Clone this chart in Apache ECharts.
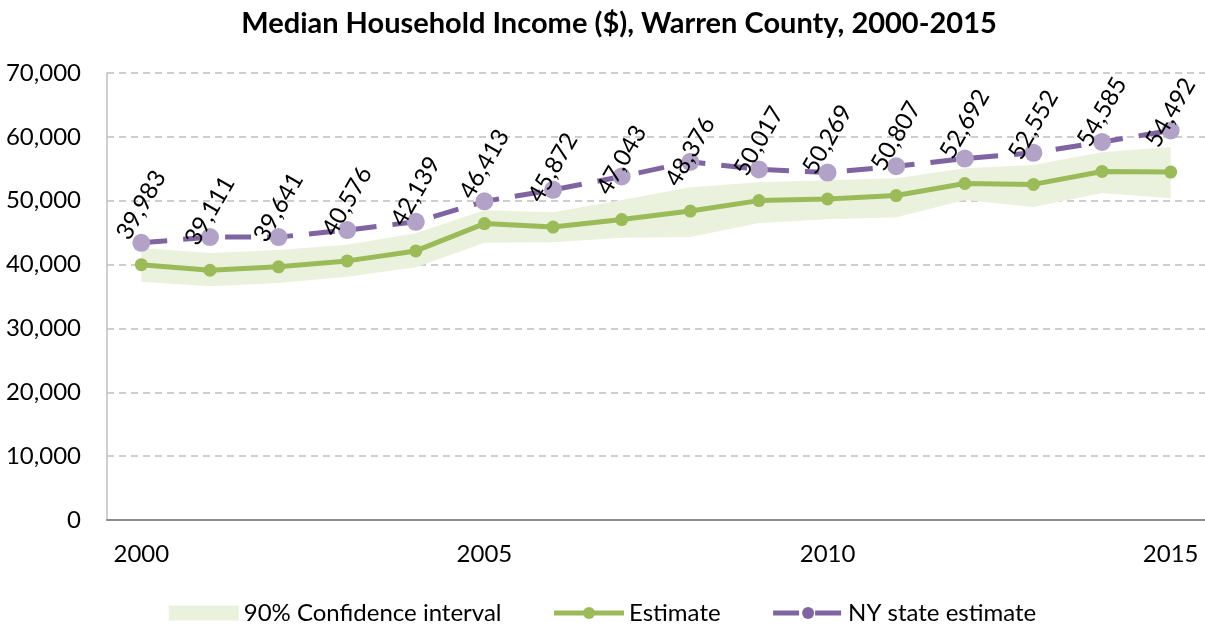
<!DOCTYPE html>
<html>
<head>
<meta charset="utf-8">
<script src="https://cdn.jsdelivr.net/npm/echarts@6/dist/echarts.min.js"></script>
<style>
  html, body { margin: 0; padding: 0; background: #fff; }
  #IncomeChart { width: 1205px; height: 627px; }
</style>
</head>
<body>
<div id="IncomeChart"></div>
<script>
var years = ['2000', '2001', '2002', '2003', '2004', '2005', '2006', '2007',
             '2008', '2009', '2010', '2011', '2012', '2013', '2014', '2015'];
var estimate = [39983, 39111, 39641, 40576, 42139, 46413, 45872, 47043,
                48376, 50017, 50269, 50807, 52692, 52552, 54585, 54492];
var nyState = [43400, 44300, 44300, 45400, 46700, 49900, 51700, 53800,
               56100, 54900, 54400, 55400, 56600, 57500, 59200, 61000];
var ciLow = [37300, 36600, 37100, 38100, 39600, 43400, 43500, 44200,
             44300, 46500, 47100, 47400, 50100, 49000, 51200, 50400];
var ciHigh = [42600, 41800, 42300, 43100, 44900, 48500, 48200, 50100,
              52100, 52900, 53200, 53500, 55100, 55600, 57600, 58400];
var yTicks = [0, 10000, 20000, 30000, 40000, 50000, 60000, 70000];

// band height on top of the lower bound (stacked area)
var ciSpan = ciHigh.map(function (v, i) { return v - ciLow[i]; });

var fontName = 'Lato';
var chart = echarts.init(document.getElementById('IncomeChart'));

var option = {
    backgroundColor: '#fff',
    animation: false,
    title: {
        text: 'Median Household Income ($), Warren County, 2000-2015',
        left: 614,
        textAlign: 'center',
        top: 4,
        textStyle: {
            fontFamily: fontName,
            fontWeight: 'bold',
            fontSize: 29,
            color: '#000'
        }
    },
    legend: {
        top: 596,
        left: 'center',
        itemWidth: 70,
        itemHeight: 15,
        itemGap: 50,
        textStyle: {
            fontFamily: fontName,
            fontSize: 24,
            color: '#000'
        },
        data: [
            { name: '90% Confidence interval', icon: 'rect', itemStyle: { color: '#eaf1dd' } },
            { name: 'Estimate', lineStyle: { width: 5 } },
            { name: 'NY state estimate', itemStyle: { color: '#8064a2' }, lineStyle: { width: 5 } }
        ]
    },
    grid: {
        top: 73,
        left: 107,
        right: 0,
        bottom: 107
    },
    xAxis: [{
        type: 'category',
        data: years,
        boundaryGap: true,
        axisLine: {
            show: true,
            lineStyle: { color: '#8c8c8c', width: 2 }
        },
        axisTick: { show: false },
        axisLabel: {
            interval: 4,
            margin: 22,
            fontFamily: fontName,
            fontSize: 24,
            color: '#000'
        },
        splitLine: { show: false }
    }],
    yAxis: [{
        type: 'value',
        min: yTicks[0],
        max: yTicks[yTicks.length - 1],
        interval: 10000,
        axisLine: {
            show: true,
            lineStyle: { color: '#bfbfbf', width: 1.5 }
        },
        axisTick: { show: false },
        axisLabel: {
            margin: 26,
            fontFamily: fontName,
            fontSize: 24,
            color: '#000',
            formatter: function (v) { return v.toLocaleString('en-US'); }
        },
        splitLine: {
            show: true,
            lineStyle: { color: '#bfbfbf', width: 1.5, type: [7, 5] }
        }
    }],
    series: [
        {
            name: 'ciLow',
            type: 'line',
            stack: 'ci',
            data: ciLow,
            symbol: 'none',
            silent: true,
            lineStyle: { opacity: 0 },
            z: 1
        },
        {
            name: '90% Confidence interval',
            type: 'line',
            stack: 'ci',
            data: ciSpan,
            symbol: 'none',
            silent: true,
            itemStyle: { color: '#eaf1dd' },
            lineStyle: { opacity: 0 },
            areaStyle: { color: '#eaf1dd', opacity: 1 },
            z: 1
        },
        {
            name: 'Estimate',
            type: 'line',
            data: estimate,
            symbol: 'circle',
            symbolSize: 13,
            showAllSymbol: true,
            itemStyle: { color: '#9bbb59' },
            lineStyle: { color: '#9bbb59', width: 5 },
            label: {
                show: true,
                position: ['50%', -53],
                align: 'center',
                verticalAlign: 'middle',
                rotate: 60,
                fontFamily: fontName,
                fontSize: 24,
                color: '#000',
                formatter: function (p) { return p.value.toLocaleString('en-US'); }
            },
            z: 4
        },
        {
            name: 'NY state estimate',
            type: 'line',
            data: nyState,
            symbol: 'circle',
            symbolSize: 18,
            showAllSymbol: true,
            itemStyle: { color: '#b3a2c7' },
            lineStyle: { color: '#8064a2', width: 5, type: [26, 16] },
            z: 3
        }
    ]
};

option && chart.setOption(option);
</script>
</body>
</html>
